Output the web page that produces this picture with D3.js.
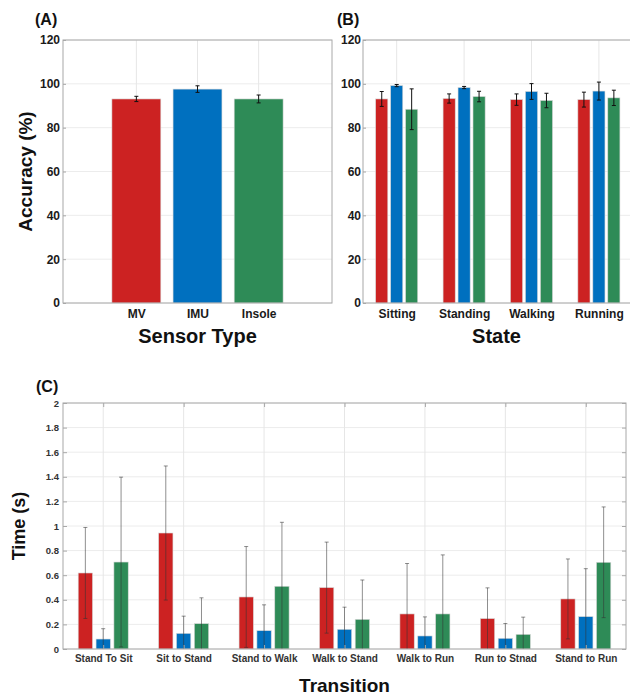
<!DOCTYPE html>
<html>
<head>
<meta charset="utf-8">
<script src="https://cdn.jsdelivr.net/npm/d3@7"></script>
<style>
  body { margin: 0; background: #fff; }
  text { font-family: "Liberation Sans", Arial, sans-serif; font-weight: bold; }
</style>
</head>
<body>
<svg id="chart" width="630" height="696"></svg>
<script>
// ---- data ----
const seriesNames = ["MV", "IMU", "Insole"];
const seriesColors = ["#CC2222", "#0070BF", "#2E8B57"];

// (A) accuracy per sensor type
const sensorTypes = ["MV", "IMU", "Insole"];
const sensorAcc = [93.1, 97.6, 93.1];
const sensorErr = [1.2, 1.5, 1.8];

// (B) accuracy per state
const states = ["Sitting", "Standing", "Walking", "Running"];
const stateAccMV = [93.1, 93.3, 92.8, 92.8];
const stateAccIMU = [99.2, 98.3, 96.5, 96.7];
const stateAccInsole = [88.4, 94.2, 92.4, 93.6];
const stateErrMV = [3.4, 2.1, 2.6, 3.4];
const stateErrIMU = [0.5, 0.5, 3.6, 4.1];
const stateErrInsole = [9.3, 2.4, 3.3, 3.5];

// (C) transition time
const transitions = ["Stand To Sit", "Sit to Stand", "Stand to Walk", "Walk to Stand",
                     "Walk to Run", "Run to Stnad", "Stand to Run"];
const transTimeMV = [0.618, 0.943, 0.423, 0.499, 0.285, 0.247, 0.407];
const transTimeIMU = [0.081, 0.127, 0.149, 0.160, 0.106, 0.087, 0.263];
const transTimeInsole = [0.707, 0.206, 0.510, 0.241, 0.285, 0.119, 0.705];
const transErrMV = [0.37, 0.545, 0.41, 0.37, 0.41, 0.25, 0.325];
const transErrIMU = [0.084, 0.14, 0.21, 0.18, 0.155, 0.12, 0.39];
const transErrInsole = [0.69, 0.21, 0.52, 0.32, 0.48, 0.14, 0.45];

const accTicks = [0, 20, 40, 60, 80, 100, 120];
const timeTicks = [0, 0.2, 0.4, 0.6, 0.8, 1, 1.2, 1.4, 1.6, 1.8, 2];

const svg = d3.select("#chart");

// draws one grouped-bar panel
function drawPanel(p) {
  const g = svg.append("g");
  const x = d3.scaleLinear().domain(p.xDomain).range([p.left, p.right]);
  const y = d3.scaleLinear().domain([0, p.yMax]).range([p.bottom, p.top]);
  const catPos = p.cats.map((c, i) => i + 1);

  // clip (panel B runs off the page edge)
  const clipId = "clip" + p.name;
  g.append("clipPath").attr("id", clipId)
    .append("rect").attr("x", p.left).attr("y", p.top - 10)
    .attr("width", p.right - p.left).attr("height", p.bottom - p.top + 10);

  // grid
  g.append("g").selectAll("line").data(p.yTicks).join("line")
    .attr("x1", p.left).attr("x2", p.right)
    .attr("y1", d => y(d)).attr("y2", d => y(d))
    .attr("stroke", "#ececec").attr("stroke-width", 1);
  g.append("g").selectAll("line").data(catPos).join("line")
    .attr("x1", d => x(d)).attr("x2", d => x(d))
    .attr("y1", p.top).attr("y2", p.bottom)
    .attr("stroke", "#e6e6e6").attr("stroke-width", 1);

  const rowsOf = (s, si) => s.mean.map((m, i) => ({
    pos: catPos[i] + p.offsets[si], m: m, e: s.err[i],
    color: Array.isArray(s.color) ? s.color[i] : s.color
  }));

  // bars
  const bars = g.append("g").attr("clip-path", `url(#${clipId})`);
  p.series.forEach((s, si) => {
    bars.selectAll(null).data(rowsOf(s, si)).join("rect")
      .attr("x", d => x(d.pos - p.barW / 2))
      .attr("width", d => x(d.pos + p.barW / 2) - x(d.pos - p.barW / 2))
      .attr("y", d => y(d.m))
      .attr("height", d => y(0) - y(d.m))
      .attr("fill", d => d.color)
      .attr("stroke", "#d8d8d8").attr("stroke-width", 0.6);
  });

  // error bars
  const eb = g.append("g").attr("clip-path", `url(#${clipId})`);
  p.series.forEach((s, si) => {
    const grp = eb.selectAll(null).data(rowsOf(s, si)).join("g")
      .attr("stroke", p.errColor).attr("stroke-opacity", p.errOpacity).attr("stroke-width", 1);
    grp.append("line")
      .attr("x1", d => x(d.pos)).attr("x2", d => x(d.pos))
      .attr("y1", d => y(Math.min(p.yMax, d.m + d.e))).attr("y2", d => y(Math.max(0, d.m - d.e)));
    grp.append("line")
      .attr("x1", d => x(d.pos) - p.cap).attr("x2", d => x(d.pos) + p.cap)
      .attr("y1", d => y(d.m + d.e)).attr("y2", d => y(d.m + d.e));
    grp.filter(d => d.m - d.e > 0).append("line")
      .attr("x1", d => x(d.pos) - p.cap).attr("x2", d => x(d.pos) + p.cap)
      .attr("y1", d => y(d.m - d.e)).attr("y2", d => y(d.m - d.e));
  });

  // box
  g.append("rect")
    .attr("x", p.left).attr("y", p.top)
    .attr("width", p.right - p.left).attr("height", p.bottom - p.top)
    .attr("fill", "none").attr("stroke", "#a8a8a8").attr("stroke-width", 1);

  // y axis (inward ticks)
  const ya = g.append("g").attr("transform", `translate(${p.left},0)`)
    .call(d3.axisLeft(y).tickValues(p.yTicks).tickSize(-p.tick).tickPadding(p.yPad)
      .tickFormat(p.yFormat));
  ya.select(".domain").remove();
  ya.selectAll(".tick line").attr("stroke", "#a8a8a8");
  ya.selectAll(".tick text").attr("font-size", p.yFont).attr("fill", p.tickColor)
    .attr("font-family", "Liberation Sans, Arial, sans-serif");

  if (p.rightTicks) {
    const yr = g.append("g").attr("transform", `translate(${p.right},0)`)
      .call(d3.axisRight(y).tickValues(p.yTicks).tickSize(-p.tick).tickFormat(""));
    yr.select(".domain").remove();
    yr.selectAll(".tick line").attr("stroke", "#a8a8a8");
    const xt = g.append("g").attr("transform", `translate(0,${p.top})`)
      .call(d3.axisTop(x).tickValues(catPos).tickSize(-p.tick).tickFormat(""));
    xt.select(".domain").remove();
    xt.selectAll(".tick line").attr("stroke", "#a8a8a8");
  }

  // x axis labels
  const xa = g.append("g").attr("transform", `translate(0,${p.bottom})`)
    .call(d3.axisBottom(x).tickValues(catPos).tickSize(p.rightTicks ? -p.tick : 0)
      .tickPadding(p.xPad).tickFormat((d, i) => p.cats[i]));
  xa.select(".domain").remove();
  xa.selectAll(".tick line").attr("stroke", "#a8a8a8");
  xa.selectAll(".tick text").attr("font-size", p.xFont).attr("fill", p.tickColor)
    .attr("font-family", "Liberation Sans, Arial, sans-serif");

  // titles
  svg.append("text").attr("x", p.labelX).attr("y", p.labelY)
    .attr("font-size", 16).attr("fill", "#111").text(p.label);
  svg.append("text").attr("x", (p.left + Math.min(p.right, 630)) / 2)
    .attr("y", p.xTitleY).attr("text-anchor", "middle")
    .attr("font-size", p.titleFont).attr("fill", "#111").text(p.xTitle);
  if (p.yTitle) {
    svg.append("text")
      .attr("transform", `translate(${p.yTitleX},${(p.top + p.bottom) / 2}) rotate(-90)`)
      .attr("text-anchor", "middle").attr("font-size", p.yTitleFont)
      .attr("fill", "#111").text(p.yTitle);
  }
}

drawPanel({
  name: "A", left: 63, right: 332, top: 40, bottom: 303,
  xDomain: [-0.2, 4.2], yMax: 120, yTicks: accTicks, yFormat: d => d,
  cats: sensorTypes,
  series: [{ mean: sensorAcc, err: sensorErr, color: seriesColors }],
  offsets: [0], barW: 0.8, cap: 2, errColor: "#111", errOpacity: 1,
  tick: 3, yPad: 3, xPad: 6, yFont: 12, xFont: 12, tickColor: "#1a1a1a",
  label: "(A)", labelX: 35, labelY: 25,
  xTitle: "Sensor Type", xTitleY: 343, titleFont: 20,
  yTitle: "Accuracy (%)", yTitleX: 32, yTitleFont: 19
});

drawPanel({
  name: "B", left: 363, right: 632.6, top: 40, bottom: 303,
  xDomain: [0.5, 4.5], yMax: 120, yTicks: accTicks, yFormat: d => d,
  cats: states,
  series: [
    { mean: stateAccMV, err: stateErrMV, color: seriesColors[0] },
    { mean: stateAccIMU, err: stateErrIMU, color: seriesColors[1] },
    { mean: stateAccInsole, err: stateErrInsole, color: seriesColors[2] }
  ],
  offsets: [-0.222, 0, 0.222], barW: 0.18, cap: 2, errColor: "#111", errOpacity: 1,
  tick: 3, yPad: 2, xPad: 6, yFont: 12, xFont: 12, tickColor: "#1a1a1a",
  label: "(B)", labelX: 337, labelY: 25,
  xTitle: "State", xTitleY: 343, titleFont: 20
});

drawPanel({
  name: "C", left: 63, right: 626, top: 403, bottom: 649,
  xDomain: [0.5, 7.5], yMax: 2, yTicks: timeTicks, yFormat: d => String(+d.toFixed(1)),
  cats: transitions,
  series: [
    { mean: transTimeMV, err: transErrMV, color: seriesColors[0] },
    { mean: transTimeIMU, err: transErrIMU, color: seriesColors[1] },
    { mean: transTimeInsole, err: transErrInsole, color: seriesColors[2] }
  ],
  offsets: [-0.222, 0, 0.222], barW: 0.178, cap: 2, errColor: "#333", errOpacity: 0.55,
  tick: 4, yPad: 4, xPad: 6, yFont: 9.5, xFont: 10, tickColor: "#333", rightTicks: true,
  label: "(C)", labelX: 36, labelY: 392,
  xTitle: "Transition", xTitleY: 692, titleFont: 19,
  yTitle: "Time (s)", yTitleX: 25, yTitleFont: 18
});
</script>
</body>
</html>
